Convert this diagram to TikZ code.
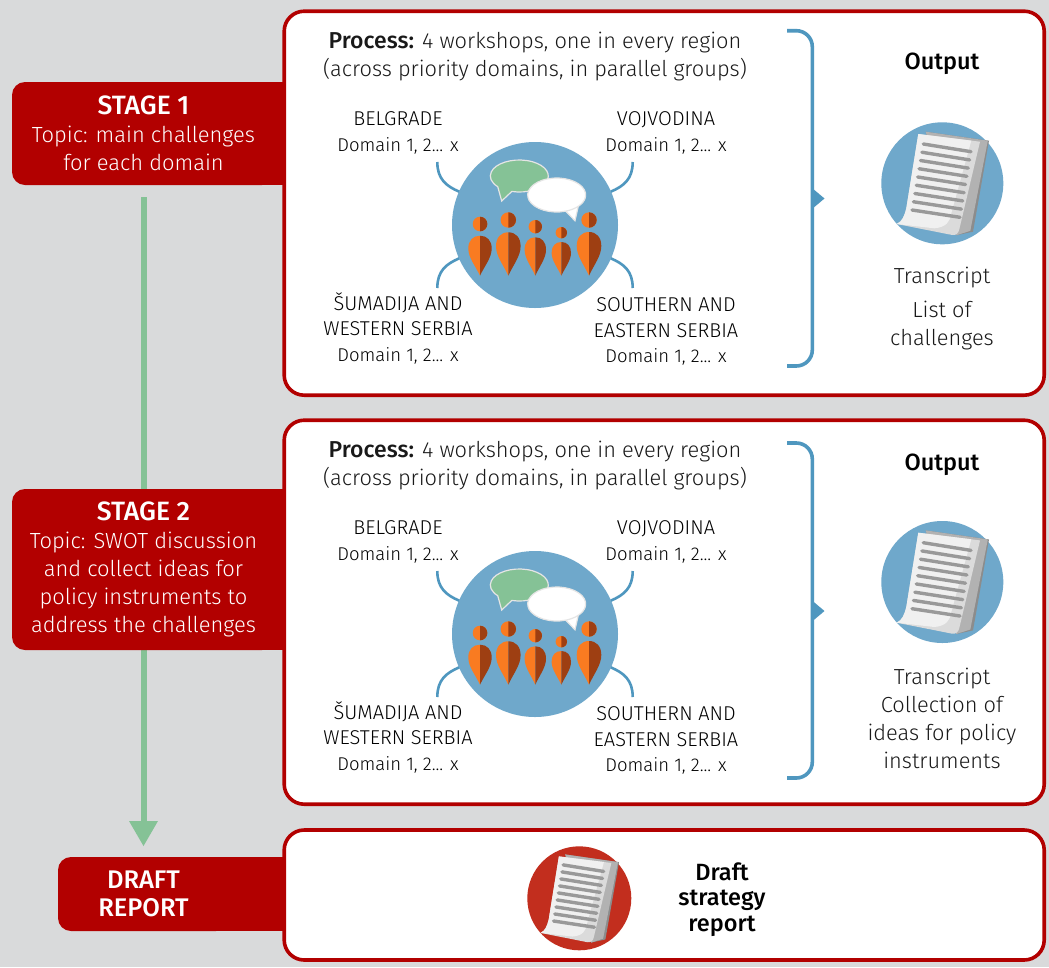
\documentclass[tikz,border=0pt]{standalone}
\usepackage{fontspec}
\setmainfont{Fira Sans Light}[BoldFont={Fira Sans Medium}]
\usepackage{xcolor}
\usetikzlibrary{backgrounds}

\definecolor{pagegrey}{HTML}{D9DADB}
\definecolor{stagered}{HTML}{B20000}
\definecolor{iconblue}{HTML}{6FA8CB}
\definecolor{linkblue}{HTML}{4F97BF}
\definecolor{arrowgreen}{HTML}{85C296}
\definecolor{iconred}{HTML}{C22E1E}
\definecolor{personlight}{HTML}{F97B21}
\definecolor{persondark}{HTML}{9E3F12}

\tikzset{
    stagebox/.style={fill=stagered, text=white, rounded corners=13pt, align=center, inner sep=0pt, font=\fontsize{21.9}{28}\selectfont},
    panelbox/.style={draw=stagered, line width=3.6pt, fill=white, rounded corners=20pt, inner sep=0pt},
    bodytext/.style={align=center, inner sep=0pt, text=black!90, font=\fontsize{21.8}{28}\selectfont},
    regiontext/.style={align=center, inner sep=0pt, text=black, font=\fontsize{20}{25.5}\selectfont},
    boldtext/.style={align=center, inner sep=0pt, text=black, font=\fontsize{23.5}{25.5}\selectfont\bfseries},
    bracketline/.style={draw=linkblue, line width=3.6pt, rounded corners=16pt},
    docicon/.pic={
        % back sheet and fold
        \fill[black!45] (-16.6,-51.6) -- (46.7,-42.6) -- (30.7,48.4) -- (14,52) -- cycle;
        \fill[black!30] (-16.6,-51.6) -- (45.5,-42.6) -- (28,47.5) -- (14,52) -- cycle;
        % front sheet
        \fill[black!14] (-24,-49.3) -- (37.7,-41.6) -- (17,46) .. controls (16,50) and (14,52) .. (10,51.7) -- (-45.6,40.7) .. controls (-40,38) and (-38,33) .. (-36,25) -- cycle;
        \fill[black!6] (-24,-49.3) -- (29,-42.7) -- (9,30) .. controls (8,38) and (4,44) .. (-8,45) -- (-45.6,40.7) .. controls (-40,38) and (-38,33) .. (-36,25) -- cycle;
        % text lines
        \foreach \i in {0,...,8}
            \draw[black!40, line width=3.4pt, line cap=round] ({-19-1.41*\i},{-39.3+8.25*\i}) -- ({28.7-1.375*\i},{-31.6+8.2*\i});
    },
    crowdicon/.pic={
        % links to the four regions
        \foreach \sx/\sy in {-1/-1,1/-1,-1/1,1/1}
            \draw[linkblue, line width=2.6pt] ({\sx*97.7},{\sy*63}) .. controls ({\sx*97.7},{\sy*46}) and ({\sx*89},{\sy*39}) .. ({\sx*75.7},{\sy*33.3});
        \fill[iconblue] (0,0) circle (83);
        % speech bubbles
        \draw[black!10, line width=1.2pt, fill=arrowgreen] (-15.7,-49) ++(105:29 and 16) arc (105:-222:29 and 16) -- (-33.3,-24) -- cycle;
        \draw[black!10, line width=1.2pt, fill=white] (21.7,-30) ++(72:29 and 17) arc (72:-318:29 and 17) -- (40,-4.3) -- cycle;
        % people
        \foreach \c/\hy/\r/\t/\w in {-55/-1/7.3/10.7/11.7, -26.7/-5/7.7/7.3/12.3, 0.3/1.7/6.7/12.3/10.7, 26.3/7.7/5.7/17/9.7, 54/-5/7.7/7/12.3} {
            \fill[personlight] (\c,\hy) circle (\r);
            \fill[persondark] (\c,{\hy+\r}) arc (90:-90:\r) -- cycle;
            \begin{scope}[shift={(\c,\t)}, xscale=\w, yscale={50.7-\t}]
                \fill[personlight] (0,1) .. controls (-0.4,0.75) and (-1,0.55) .. (-1,0.32) .. controls (-1,0.12) and (-0.6,0) .. (0,0) -- cycle;
                \fill[persondark] (0,1) .. controls (0.4,0.75) and (1,0.55) .. (1,0.32) .. controls (1,0.12) and (0.6,0) .. (0,0) -- cycle;
            \end{scope}
        }
    },
}
\newcommand{\domaintext}{{\fontsize{18.5}{25.5}\selectfont Domain 1, 2... x}}
\newcommand{\stagetitle}[1]{{\fontsize{26.5}{28}\selectfont\bfseries #1}}
\newcommand{\draftline}[1]{{\fontsize{25.5}{28}\selectfont\bfseries #1}}

\begin{document}
\begin{tikzpicture}[x=1pt, y=-1pt]
    \useasboundingbox (0,0) rectangle (1049,967);

    % Page background
    \begin{pgfonlayer}{background}
        \fill[pagegrey] (0,0) rectangle (1049,967);
    \end{pgfonlayer}

    % Tabs that run from the stage labels under the panels
    \fill[stagered] (250,82) rectangle (288,185);
    \fill[stagered] (250,489) rectangle (288,650);
    \fill[stagered] (200,857) rectangle (288,931);

    % Stage labels
    \node[stagebox, minimum width=263pt, minimum height=103pt] (stageone) at (143.5,133.5) {\stagetitle{STAGE 1}\\[-0.5pt]Topic: main challenges\\for each domain};
    \node[stagebox, minimum width=263pt, minimum height=161pt] (stagetwo) at (143.5,569.5) {\stagetitle{STAGE 2}\\Topic: SWOT discussion\\and collect ideas for\\policy instruments to\\address the challenges};
    \node[stagebox, minimum width=171pt, minimum height=74pt] (draftlabel) at (143.5,894) {\draftline{DRAFT}\\\draftline{REPORT}};

    % Green arrow behind the stage labels
    \begin{pgfonlayer}{background}
        \draw[arrowgreen, line width=6pt, shorten <=12pt, shorten >=36pt] (stageone.south) -- (draftlabel.north);
        \fill[arrowgreen] (129,821) -- (158,821) -- (143.5,846) -- cycle;
    \end{pgfonlayer}

    % Panels
    \node[panelbox, minimum width=760pt, minimum height=384pt] (panelone) at (664.2,203.2) {};
    \node[panelbox, minimum width=760pt, minimum height=384pt] (paneltwo) at (664.2,612.2) {};
    \node[panelbox, minimum width=760pt, minimum height=130pt] (paneldraft) at (664.2,895) {};

    % Workshop part, the same in both panels
    \foreach \off/\nm in {0/one,409/two} {
        \begin{scope}[shift={(0,\off)}]
            \node[bodytext] (process\nm) at (535,57) {{\fontsize{23}{28}\selectfont\bfseries Process:} 4 workshops, one in every region\\(across priority domains, in parallel groups)};
            \pic at (535,225) {crowdicon};
            \node[regiontext] (belgrade\nm) at (398,133) {BELGRADE\\\domaintext};
            \node[regiontext] (vojvodina\nm) at (666,133) {VOJVODINA\\\domaintext};
            \node[regiontext] (sumadija\nm) at (398,328.5) {ŠUMADIJA AND\\WESTERN SERBIA\\\domaintext};
            \node[regiontext] (southern\nm) at (666,331.5) {SOUTHERN AND\\EASTERN SERBIA\\\domaintext};
        \end{scope}
    }

    % Brackets with their pointers
    \draw[bracketline] (787,30.7) -- (812.3,30.7) -- (812.3,366) -- (787,366);
    \fill[linkblue] (812,188) -- (824.5,198.5) -- (812,209) -- cycle;
    \draw[bracketline] (787,443) -- (812.3,443) -- (812.3,778) -- (787,778);
    \fill[linkblue] (812,600.5) -- (824.5,611) -- (812,621.5) -- cycle;

    % Outputs
    \node[boldtext] (outputone) at (942,64) {Output};
    \fill[iconblue] (942.3,183.3) circle (61);
    \pic at (942.3,183.3) {docicon};
    \node[bodytext] (transcriptone) at (942,309) {Transcript\\[6pt]List of\\challenges};

    \node[boldtext] (outputtwo) at (942,465) {Output};
    \fill[iconblue] (942.3,582) circle (61);
    \pic at (942.3,582) {docicon};
    \node[bodytext] (transcripttwo) at (942,718.5) {Transcript\\Collection of\\ideas for policy\\instruments};

    % Draft report
    \fill[iconred] (579.3,898.3) circle (52);
    \pic[scale=0.85] at (579.3,898.3) {docicon};
    \node[boldtext] (draftstrategy) at (722,899.5) {Draft\\strategy\\report};
\end{tikzpicture}
\end{document}
